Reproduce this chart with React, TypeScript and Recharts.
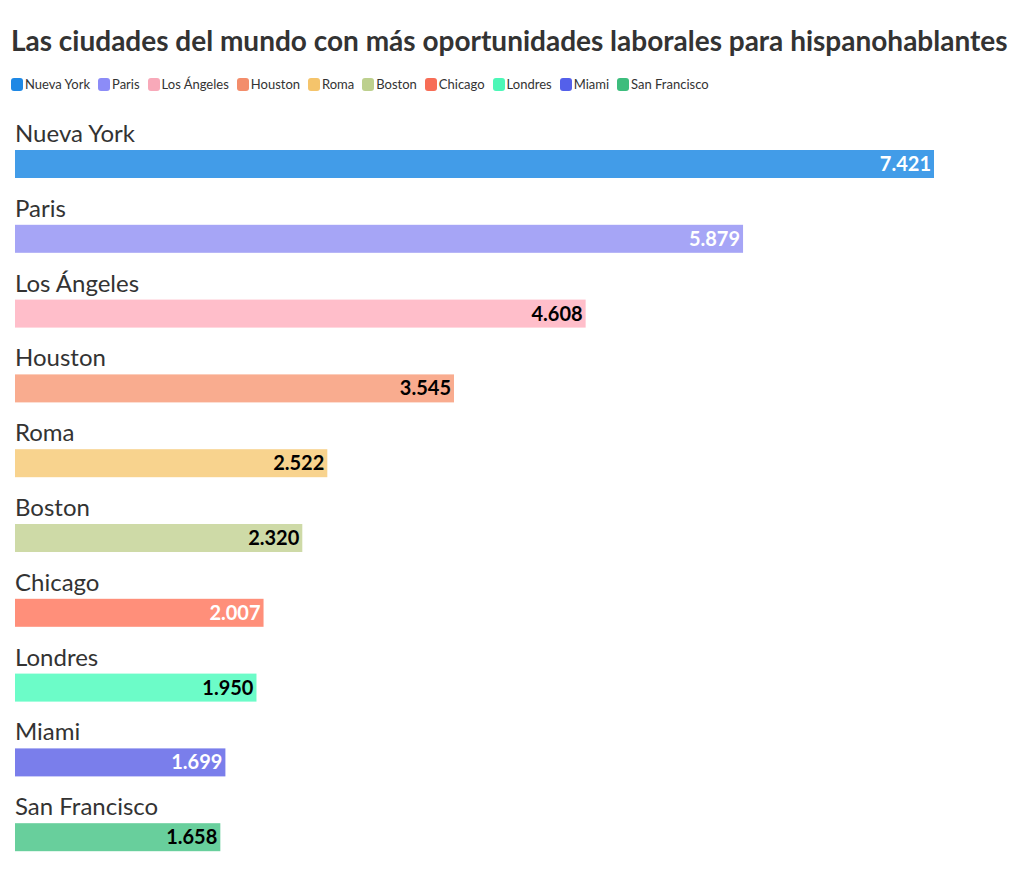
import React from 'react';
import { BarChart, Bar, XAxis, YAxis, Cell, LabelList } from 'recharts';

const cities = ['Nueva York', 'Paris', 'Los Ángeles', 'Houston', 'Roma', 'Boston', 'Chicago', 'Londres', 'Miami', 'San Francisco'];
const values = [7421, 5879, 4608, 3545, 2522, 2320, 2007, 1950, 1699, 1658];
const valueLabels = ['7.421', '5.879', '4.608', '3.545', '2.522', '2.320', '2.007', '1.950', '1.699', '1.658'];
const legendColors = ['#1e88e5', '#8c8cf7', '#f8a9b9', '#f38d6b', '#f5c46b', '#bdd08e', '#f76d56', '#4cf7b7', '#5460ea', '#3dbd7d'];
const barColors = ['#429ce8', '#a6a5f6', '#ffbeca', '#f9ac8f', '#f8d38e', '#cedaa7', '#ff8f7a', '#6cfcc8', '#7a7eeb', '#68cf9c'];
const labelColors = ['#ffffff', '#ffffff', '#000000', '#000000', '#000000', '#000000', '#ffffff', '#000000', '#ffffff', '#000000'];

const data = cities.map((c, i) => ({ city: c, value: values[i], label: valueLabels[i], idx: i }));

const FONT = 'Lato, "Open Sans", sans-serif';
const SHIFT = 11;

const BarShape = (props: any) => {
  const { x, y, width, height, fill } = props;
  return <rect x={x} y={y + SHIFT} width={width} height={height} fill={fill} />;
};

const CityLabel = (props: any) => {
  const { x, y, value } = props;
  return (
    <text x={x} y={y + SHIFT - 8} fontSize={24} fill="#333333" fontFamily={FONT}>
      {value}
    </text>
  );
};

const ValueLabel = (props: any) => {
  const { x, y, width, height, index } = props;
  return (
    <text
      x={x + width - 3}
      y={y + SHIFT + height / 2 + 7}
      fontSize={20}
      fontWeight={700}
      textAnchor="end"
      fill={labelColors[index]}
      fontFamily={FONT}
    >
      {valueLabels[index]}
    </text>
  );
};

export default function App() {
  return (
    <div style={{ position: 'relative', width: 1004, height: 857, fontFamily: FONT, background: '#fff' }}>
      <div style={{ position: 'absolute', left: 3, top: 15, fontSize: 28, fontWeight: 700, color: '#333333', whiteSpace: 'nowrap' }}>
        Las ciudades del mundo con más oportunidades laborales para hispanohablantes
      </div>
      <div style={{ position: 'absolute', left: 3, top: 68, display: 'flex', alignItems: 'center', fontSize: 13, color: '#333333', whiteSpace: 'nowrap' }}>
        {cities.map((c, i) => (
          <div key={c} style={{ display: 'flex', alignItems: 'center', marginRight: 8 }}>
            <span style={{ display: 'inline-block', width: 12, height: 13, borderRadius: 3, background: legendColors[i], marginRight: 2 }} />
            <span>{c}</span>
          </div>
        ))}
      </div>
      <div style={{ position: 'absolute', left: 0, top: 92 }}>
        <BarChart
          width={1004}
          height={764}
          data={data}
          layout="vertical"
          margin={{ top: 16, right: 78, bottom: 0, left: 7 }}
        >
          <XAxis type="number" domain={[0, 7421]} hide />
          <YAxis type="category" dataKey="city" hide />
          <Bar dataKey="value" barSize={28} isAnimationActive={false} shape={<BarShape />}>
            {data.map((d, i) => (
              <Cell key={d.city} fill={barColors[i]} />
            ))}
            <LabelList dataKey="city" content={<CityLabel />} />
            <LabelList dataKey="label" content={<ValueLabel />} />
          </Bar>
        </BarChart>
      </div>
    </div>
  );
}
